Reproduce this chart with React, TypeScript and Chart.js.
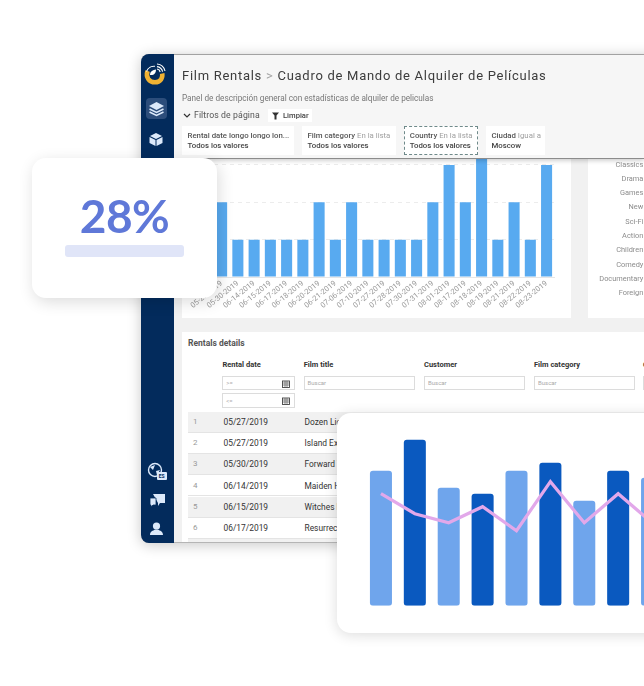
import React, { useEffect, useRef } from "react";
import { Chart, registerables } from "chart.js";

Chart.register(...registerables);

const rentalDates = ["05-27-2019","05-30-2019","06-14-2019","06-15-2019","06-17-2019","06-18-2019","06-20-2019","06-21-2019","07-06-2019","07-10-2019","07-27-2019","07-28-2019","07-30-2019","07-31-2019","08-01-2019","08-17-2019","08-18-2019","08-19-2019","08-21-2019","08-22-2019","08-23-2019"];
const rentalCounts = [2,1,1,1,1,1,2,1,2,1,1,1,1,2,3,2,4,1,2,1,3];
const filmCategories = ["Classics","Drama","Games","New","Sci-Fi","Action","Children","Comedy","Documentary","Foreign"];
const cardCategories = ["A","B","C","D","E","F","G","H","I"];
const cardBars = [135,166,118,112,135,143,105,135,128];
const cardLine = [112,92,83,99,75,124,83,112,83];
const tableRows = [
  ["1","05/27/2019","Dozen Lion"],
  ["2","05/27/2019","Island Exorcist"],
  ["3","05/30/2019","Forward Temple"],
  ["4","06/14/2019","Maiden Home"],
  ["5","06/15/2019","Witches Panic"],
  ["6","06/17/2019","Resurrection Silverado"],
];

const UI = "Roboto, sans-serif";

function useChart(make: (c: HTMLCanvasElement) => Chart) {
  const ref = useRef<HTMLCanvasElement>(null);
  useEffect(() => {
    const ch = make(ref.current!);
    return () => ch.destroy();
  }, []);
  return ref;
}

function Box({ x, y, w, h, style, children }: any) {
  return <div style={{ position: "absolute", left: x, top: y, width: w, height: h, ...style }}>{children}</div>;
}

function Text({ x, y, size = 8, color = "#444", weight = 400, spacing = 0, right, children }: any) {
  return (
    <div style={{ position: "absolute", left: right === undefined ? x : undefined, right, top: y, transform: "translateY(-50%)", fontSize: size, color, fontWeight: weight, letterSpacing: spacing, whiteSpace: "nowrap", lineHeight: 1, fontFamily: UI }}>
      {children}
    </div>
  );
}

function RentalsChart() {
  const ref = useChart((c) => new Chart(c, {
    type: "bar",
    data: { labels: rentalDates, datasets: [{ data: rentalCounts, backgroundColor: "#58aaf0", categoryPercentage: 1, barPercentage: 0.68 }] },
    options: {
      animation: false, responsive: false,
      layout: { padding: { left: 31.5, right: 16.3, top: 7.6, bottom: 0 } },
      plugins: { legend: { display: false }, tooltip: { enabled: false } },
      scales: {
        x: {
          afterFit: (s: any) => { s.height = 41; },
          grid: { display: false }, border: { color: "#e6e6e6" },
          ticks: { autoSkip: false, minRotation: 39, maxRotation: 39, padding: -6, color: "#9a9a9a", font: { family: UI, size: 7.6 } },
        },
        y: {
          min: 0, max: 4,
          afterFit: (s: any) => { s.width = 0; },
          ticks: { display: false, stepSize: 1 },
          grid: { color: "#ececec", drawTicks: false },
          border: { display: false, dash: [4, 4] },
        },
      },
    },
  } as any));
  return <canvas ref={ref} width={389} height={198} style={{ position: "absolute", left: 182, top: 120, display: "block" }} />;
}

function CategoryAxis() {
  const ref = useChart((c) => new Chart(c, {
    type: "bar",
    data: { labels: filmCategories, datasets: [{ data: [] }] },
    options: {
      indexAxis: "y", animation: false, responsive: false,
      layout: { padding: { top: 7.6, bottom: 9.4, left: 0, right: 0 } },
      plugins: { legend: { display: false }, tooltip: { enabled: false } },
      scales: {
        x: { display: false, min: 0, max: 1 },
        y: {
          afterFit: (s: any) => { s.width = 56; },
          grid: { display: false, drawTicks: false }, border: { display: false },
          ticks: { padding: 0.7, autoSkip: false, color: "#8c8c8c", font: { family: UI, size: 7.4 } },
        },
      },
    },
  } as any));
  return <canvas ref={ref} width={120} height={160} style={{ position: "absolute", left: 588, top: 150, display: "block" }} />;
}

function CardChart() {
  const ref = useChart((c) => new Chart(c, {
    type: "bar",
    data: {
      labels: cardCategories,
      datasets: [
        { type: "line", data: cardLine, borderColor: "#e2a8ea", borderWidth: 3.2, pointRadius: 0, tension: 0, order: 0 },
        { type: "bar", data: cardBars, backgroundColor: (ctx: any) => ctx.dataIndex % 2 ? "#0a59bf" : "#6fa5ec", borderRadius: 3, borderSkipped: false, categoryPercentage: 1, barPercentage: 0.65, order: 1 },
      ],
    },
    options: {
      animation: false, responsive: false,
      layout: { padding: { left: 27, right: 8, top: 22.7, bottom: 27.3 } },
      plugins: { legend: { display: false }, tooltip: { enabled: false } },
      scales: { x: { display: false }, y: { display: false, min: 0, max: 170 } },
    },
  } as any));
  return <canvas ref={ref} width={340} height={220} style={{ position: "absolute", left: 0, top: 0, display: "block" }} />;
}

function Logo() {
  return (
    <svg width="26" height="26" viewBox="0 0 26 26" style={{ position: "absolute", left: 142, top: 61 }}>
      <path d="M5.5 10 C3.5 16 7 21.3 13 21.3 C18.5 21.3 21 17 20.2 12.5" fill="none" stroke="#f0b233" strokeWidth="4.6" />
      <path d="M4.5 10.5 C6 6.5 10 5 13 5.3" fill="none" stroke="#fff" strokeWidth="1.1" />
      <path d="M8 14 C8 10 11 9 14 8.5 C14 12 12 14.5 8 14 Z" fill="#fff" />
      <path d="M15 3 A9 9 0 0 1 23 10 M15 5.6 A6.5 6.5 0 0 1 20.6 10.6 M15 8 A4 4 0 0 1 18.2 11" fill="none" stroke="#fff" strokeWidth="1.1" />
    </svg>
  );
}

function Sidebar() {
  const ic = "#dce9fa";
  return (
    <Box x={141} y={54} w={33} h={489} style={{ background: "#032b5c", borderRadius: "8px 0 0 8px" }}>
      <svg width="33" height="489" style={{ position: "absolute", left: 0, top: 0 }}>
        <rect x="5" y="44" width="21" height="21" rx="4" fill="#2c4d7b" />
        <path d="M15.5 48 L23 52 L15.5 56 L8 52 Z" fill={ic} />
        <path d="M8.5 55 L15.5 58.5 L22.5 55 M8.5 58 L15.5 61.5 L22.5 58" fill="none" stroke={ic} strokeWidth="1.5" />
        <path d="M15 79 L21 82 L15 85 L9 82 Z" fill={ic} />
        <path d="M8.5 83 L14.5 86 L14.5 92 L8.5 89 Z M15.5 86 L21.5 83 L21.5 89 L15.5 92 Z" fill={ic} />
        <circle cx="14" cy="416" r="6.5" fill="none" stroke={ic} strokeWidth="1.4" />
        <path d="M9 413 L14 411 L12 416 Z M15 417 L19 416 L16 421 Z" fill={ic} />
        <rect x="16" y="418" width="10" height="8" rx="1" fill={ic} />
        <path d="M12 440 H24 V449 H19 L17 452 V449 H17 Z" fill={ic} />
        <path d="M9 444 H15 V451 H12 L10 453 V451 H9 Z" fill={ic} stroke="#032b5c" strokeWidth="0.8" />
        <circle cx="15.5" cy="472" r="3.6" fill={ic} />
        <path d="M9 481 C9 477 12 477 14 475.5 H17 C19 477 22 477 22 481 Z" fill={ic} />
      </svg>
      <Text x={17.8} y={422} size={5} color="#032b5c" weight={700}>ES</Text>
    </Box>
  );
}

function Chip({ x, w, label, op, value, dashed }: any) {
  return (
    <Box x={x} y={126} w={w} h={29} style={{ background: "#fff", border: dashed ? "1px dashed #6f8a8a" : undefined, boxSizing: "border-box" }}>
      <Text x={dashed ? 4.5 : 5.5} y={dashed ? 8.5 : 9.5} size={7.8} color="#555" weight={500}>{label} <span style={{ color: "#a0a0a0", fontWeight: 400 }}>{op}</span></Text>
      <Text x={dashed ? 4.5 : 5.5} y={dashed ? 18.5 : 19.5} size={7.8} color="#444" weight={500}>{value}</Text>
    </Box>
  );
}

function Input({ x, y, w, text, cal }: any) {
  return (
    <Box x={x} y={y} w={w} h={14.5} style={{ background: "#fff", border: "1px solid #dcdcdc", boxSizing: "border-box" }}>
      <Text x={3} y={6.5} size={6} color="#aaa">{text}</Text>
      {cal && (
        <svg width="8" height="8" viewBox="0 0 8 8" style={{ position: "absolute", right: 4, top: 3 }}>
          <rect x="0.5" y="1" width="7" height="6.5" fill="none" stroke="#444" strokeWidth="0.9" />
          <path d="M0.5 3 H7.5 M0.5 5 H7.5 M3 1 V7.5 M5 1 V7.5" stroke="#444" strokeWidth="0.6" />
        </svg>
      )}
    </Box>
  );
}

export default function App() {
  return (
    <div style={{ position: "fixed", left: 0, top: 0, width: 644, height: 686, overflow: "hidden", background: "#fff", fontFamily: UI, filter: "blur(0.3px)" }}>
      {/* dashboard */}
      <Box x={141} y={54} w={560} h={489} style={{ background: "#f1f1f1", borderTop: "1px solid #a6a6a6", borderBottom: "1px solid #b5b5b5", borderRadius: "8px 0 0 8px", boxShadow: "0 2px 14px rgba(0,0,0,.22)", boxSizing: "border-box" }} />
      <Box x={182} y={158} w={389} h={160} style={{ background: "#fff" }} />
      <Box x={588} y={158} w={70} h={160} style={{ background: "#fff" }} />
      <RentalsChart />
      <CategoryAxis />

      {/* table panel */}
      <Box x={182} y={332} w={480} h={210} style={{ background: "#fff" }} />
      <Text x={188} y={342.7} size={8.5} color="#555" weight={700}>Rentals details</Text>
      <Text x={222.5} y={364.7} size={7.5} color="#333" weight={700}>Rental date</Text>
      <Text x={303.7} y={364.7} size={7.5} color="#333" weight={700}>Film title</Text>
      <Text x={424} y={364.7} size={7.5} color="#333" weight={700}>Customer</Text>
      <Text x={534} y={364.7} size={7.5} color="#333" weight={700}>Film category</Text>
      <Text x={643} y={364.7} size={7.5} color="#333" weight={700}>C</Text>
      <Input x={222.3} y={375.5} w={73} text=">=" cal />
      <Input x={222.3} y={393} w={73} text="<=" cal />
      <Input x={303.5} y={375.5} w={111.5} text="Buscar" />
      <Input x={424} y={375.5} w={101} text="Buscar" />
      <Input x={534} y={375.5} w={101} text="Buscar" />
      <Input x={643} y={375.5} w={40} text="" />
      {tableRows.map((r, i) => (
        <Box key={r[0]} x={188} y={411.7 + i * 21.2} w={460} h={21.2} style={{ background: i % 2 ? "#fff" : "#f1f1f1", borderBottom: "1px solid #e4e4e4", boxSizing: "border-box" }}>
          <Text x={5} y={10.3} size={8} color="#999">{r[0]}</Text>
          <Text x={35.5} y={10.3} size={8.4} color="#333">{r[1]}</Text>
          <Text x={116.5} y={10.3} size={8.4} color="#333">{r[2]}</Text>
        </Box>
      ))}
      <Box x={188} y={539} w={460} h={3} style={{ background: "#f1f1f1" }} />

      {/* header */}
      <Box x={174} y={55} w={470} h={104} style={{ background: "#f6f6f6", borderBottom: "1px solid #8c8c8c", boxShadow: "0 2px 4px rgba(0,0,0,.18)", boxSizing: "border-box" }} />
      <Text x={182} y={75} size={13} color="#3c3c3c" spacing={0.72}>Film Rentals <span style={{ color: "#a5a5a5" }}>&gt;</span> Cuadro de Mando de Alquiler de Películas</Text>
      <Text x={182} y={97.7} size={8.2} color="#777">Panel de descripción general con estadísticas de alquiler de peliculas</Text>
      <svg width="8" height="6" style={{ position: "absolute", left: 183, top: 113 }}><path d="M1 1 L4 4 L7 1" fill="none" stroke="#333" strokeWidth="1.2" /></svg>
      <Text x={194} y={115} size={8.7} color="#555" spacing={0.1}>Filtros de página</Text>
      <Box x={268} y={109} w={44} h={13} style={{ background: "#fff" }} />
      <svg width="8" height="8" style={{ position: "absolute", left: 272, top: 112 }}><path d="M0 0.5 H7 L4.5 3.5 V7.5 H2.5 V3.5 Z" fill="#333" /></svg>
      <Text x={283} y={115.5} size={7.6} color="#444" weight={500}>Limpiar</Text>
      <Chip x={182} w={112} label="Rental date longo longo lon..." op="" value="Todos los valores" />
      <Chip x={302} w={94} label="Film category" op="En la lista" value="Todos los valores" />
      <Chip x={404.3} w={73.7} label="Country" op="En la lista" value="Todos los valores" dashed />
      <Chip x={486} w={59} label="Ciudad" op="Igual a" value="Moscow" />

      <Sidebar />
      <Logo />

      {/* 28% card */}
      <Box x={32} y={158} w={185} h={140} style={{ background: "#fff", borderRadius: 14, boxShadow: "2px 4px 16px rgba(0,0,0,.14)" }} />
      <div style={{ position: "absolute", left: 32, width: 185, top: 215.5, transform: "translateY(-50%)", textAlign: "center", fontFamily: "Lato, sans-serif", fontSize: 46, fontWeight: 700, color: "#5f78d8", lineHeight: 1, letterSpacing: -0.5 }}>28%</div>
      <Box x={65} y={245} w={119} h={12} style={{ background: "#e0e5f8", borderRadius: 3 }} />

      {/* bars and line card */}
      <Box x={337} y={413} w={340} h={220} style={{ background: "#fff", borderRadius: 14, boxShadow: "0 2px 14px rgba(0,0,0,.14)" }}>
        <CardChart />
      </Box>
    </div>
  );
}
